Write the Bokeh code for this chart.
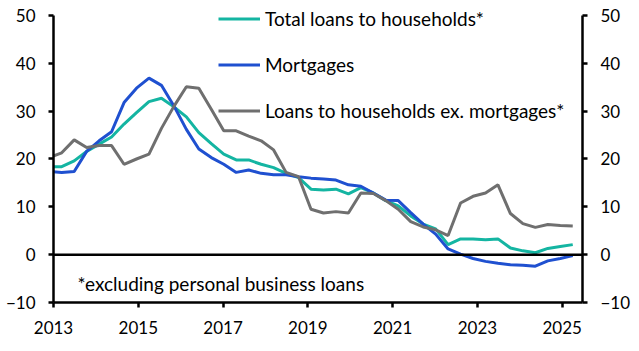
import numpy as np
from bokeh.plotting import figure
from bokeh.models import (LinearAxis, Span, Label, Legend, LegendItem,
                          FixedTicker, ColumnDataSource)
from bokeh.embed import file_html
from bokeh.resources import INLINE

# ---- data ----
first_period = 2012.90
last_period = 2025.25

total_loans = [18.4, 18.4, 19.6, 21.6, 23.1, 24.6, 27.3, 29.7, 32.0, 32.7,
               30.9, 28.8, 25.5, 23.2, 21.0, 19.8, 19.8, 18.9, 18.2, 17.0,
               16.1, 13.7, 13.5, 13.7, 12.7, 14.0, 12.9, 11.3, 10.2, 8.1,
               6.4, 5.4, 2.1, 3.3, 3.3, 3.1, 3.3, 1.4, 0.8, 0.4,
               1.3, 1.7, 2.1]
mortgages = [17.4, 17.2, 17.4, 21.6, 23.8, 25.7, 31.8, 34.8, 36.9, 35.4,
             31.1, 26.2, 22.1, 20.3, 18.9, 17.2, 17.7, 17.0, 16.7, 16.7,
             16.3, 16.0, 15.8, 15.6, 14.6, 14.3, 12.9, 11.4, 11.3, 8.8,
             6.4, 4.3, 1.2, 0.1, -0.8, -1.4, -1.8, -2.1, -2.2, -2.4,
             -1.3, -0.8, -0.2]
ex_mortgages = [20.3, 21.3, 24.0, 22.4, 22.8, 22.8, 18.9, 20.0, 21.0, 26.4,
                31.0, 35.1, 34.8, 30.4, 25.9, 25.9, 24.8, 23.8, 21.9, 17.2,
                16.3, 9.5, 8.7, 9.0, 8.7, 12.9, 12.8, 11.3, 9.5, 6.9,
                5.8, 5.2, 4.0, 10.8, 12.2, 12.9, 14.6, 8.6, 6.5, 5.7,
                6.3, 6.1, 6.0]
periods = np.linspace(first_period, last_period, len(total_loans))

series_labels = ["Total loans to households*", "Mortgages",
                 "Loans to households ex. mortgages*"]
x_ticks = [2013, 2015, 2017, 2019, 2021, 2023, 2025]
y_ticks = [-10, 0, 10, 20, 30, 40, 50]
footnote = "*excluding personal business loans"

FONT = "Lato"
colors = ["#14B5A2", "#1F50D0", "#6F6F6F"]

src = ColumnDataSource(dict(x=periods, t=total_loans, m=mortgages, e=ex_mortgages))

p = figure(width=639, height=351, output_backend="svg", toolbar_location=None,
           x_range=(2013, 2025.48), y_range=(-10, 52.09),
           min_border_left=53, min_border_right=57, min_border_top=5,
           min_border_bottom=49)
p.outline_line_color = None
p.xgrid.visible = False
p.ygrid.visible = False
p.background_fill_color = "white"

p.add_layout(Span(location=0, dimension="width", line_color="black",
                  line_width=2.5))

r_t = p.line("x", "t", source=src, line_color=colors[0], line_width=3)
r_m = p.line("x", "m", source=src, line_color=colors[1], line_width=3)
r_e = p.line("x", "e", source=src, line_color=colors[2], line_width=3)

right_axis = LinearAxis()
p.add_layout(right_axis, "right")

for ax in [p.xaxis[0], p.yaxis[0], right_axis]:
    ax.axis_line_color = "black"
    ax.axis_line_width = 2.5
    ax.major_tick_line_color = "black"
    ax.major_tick_line_width = 2.5
    ax.major_tick_out = 5
    ax.major_tick_in = 0
    ax.minor_tick_line_color = None
    ax.major_label_text_font = FONT
    ax.major_label_text_font_size = "17px"
    ax.major_label_text_color = "black"

p.xaxis[0].ticker = FixedTicker(ticks=x_ticks)
p.xaxis[0].major_label_standoff = 13
for ax in [p.yaxis[0], right_axis]:
    ax.ticker = FixedTicker(ticks=y_ticks)
    ax.bounds = (-10, 50)
    ax.major_label_standoff = 13

legend = Legend(items=[LegendItem(label=series_labels[0], renderers=[r_t]),
                       LegendItem(label=series_labels[1], renderers=[r_m]),
                       LegendItem(label=series_labels[2], renderers=[r_e])],
                location=(165, 180), padding=0, margin=0, spacing=23,
                glyph_width=42, glyph_height=21, label_height=21,
                label_standoff=5, border_line_color=None,
                background_fill_alpha=0,
                label_text_font=FONT, label_text_font_size="19px",
                label_text_color="black")
p.add_layout(legend)

p.add_layout(Label(x=24, y=19, x_units="screen", y_units="screen",
                   text=footnote, text_font=FONT, text_font_size="19px",
                   text_color="black", text_baseline="alphabetic"))

open("out.html", "w").write(file_html(p, INLINE))
